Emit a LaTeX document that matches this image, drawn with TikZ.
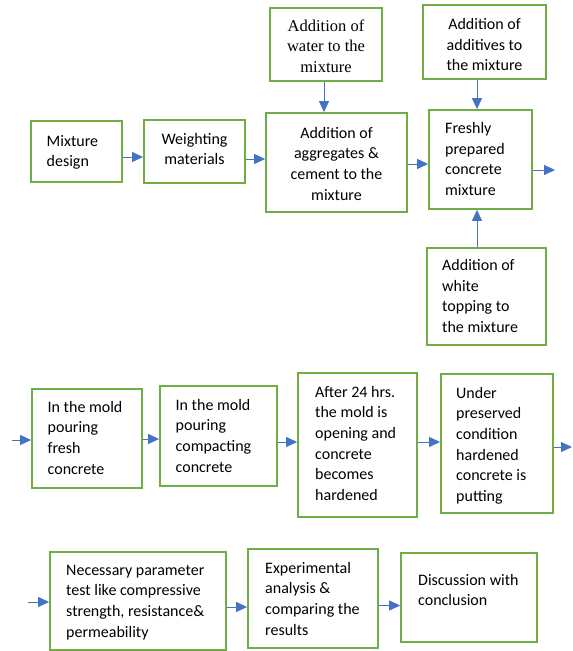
\documentclass[tikz,border=0pt]{standalone}
\usepackage{fontspec}
\setmainfont{Carlito}
\newfontfamily\serifw{Liberation Serif}
\usetikzlibrary{arrows.meta}
\definecolor{boxgreen}{HTML}{70AD47}
\definecolor{arrblue}{HTML}{4472C4}
\begin{document}
\begin{tikzpicture}[x=1pt,y=-1pt,
  box/.style={draw=boxgreen,line width=1.8pt,fill=white,inner sep=0pt},
  txt/.style={inner sep=0pt,font=\fontsize{16}{20.7}\selectfont},
  ltxt/.style={txt,align=left,anchor=base west},
  ctxt/.style={txt,align=center,anchor=base},
  arr/.style={draw=arrblue,line width=1pt,-{Triangle[length=11pt,width=10pt]}}]
\useasboundingbox (0,0) rectangle (573,651);
% top row boxes
\node[box,minimum width=91pt,minimum height=61pt] (a1) at (76.5,151.5) {};
\node[box,minimum width=101pt,minimum height=63pt] (a2) at (194.5,151.5) {};
\node[box,minimum width=141pt,minimum height=99pt] (a3) at (336.5,162.5) {};
\node[box,minimum width=112pt,minimum height=73pt] (w) at (326,44.5) {};
\node[box,minimum width=123pt,minimum height=74pt] (d) at (484.5,42) {};
\node[box,minimum width=103pt,minimum height=99pt] (f) at (480.5,159.5) {};
\node[box,minimum width=119pt,minimum height=97pt] (t) at (486.5,296.5) {};
% second row
\node[box,minimum width=110pt,minimum height=99pt] (b1) at (87,438.5) {};
\node[box,minimum width=117pt,minimum height=100pt] (b2) at (218.5,436) {};
\node[box,minimum width=119pt,minimum height=144pt] (b3) at (357.5,445) {};
\node[box,minimum width=112pt,minimum height=139pt] (b4) at (497,443.5) {};
% third row
\node[box,minimum width=176pt,minimum height=98pt] (c1) at (138,601) {};
\node[box,minimum width=130pt,minimum height=99pt] (c2) at (313,598.5) {};
\node[box,minimum width=136pt,minimum height=89pt] (c3) at (469,597.5) {};
% texts (anchor = baseline of last line)
\node[ltxt] (ta1) at (46.5,166.7) {Mixture\\design};
\node[ctxt] (ta2) at (194.5,164.7) {Weighting\\materials};
\node[ctxt] (ta3) at (336.5,200.1) {Addition of\\aggregates \&\\cement to the\\mixture};
\node[ctxt,font=\serifw\fontsize{16.5}{20.7}\selectfont] (tw) at (326,72.4) {Addition of\\water to the\\mixture};
\node[ctxt] (td) at (484.5,70.9) {Addition of\\additives to\\the mixture};
\node[ltxt] (tf) at (445,195.6) {Freshly\\prepared\\concrete\\mixture};
\node[ltxt] (tt) at (442,332.6) {Addition of\\white\\topping to\\the mixture};
\node[ltxt] (tb1) at (47.5,474.1) {In the mold\\pouring\\fresh\\concrete};
\node[ltxt] (tb2) at (175.5,472.1) {In the mold\\pouring\\compacting\\concrete};
\node[ltxt] (tb3) at (315,500.5) {After 24 hrs.\\the mold is\\opening and\\concrete\\becomes\\hardened};
\node[ltxt] (tb4) at (456,501.5) {Under\\preserved\\condition\\hardened\\concrete is\\putting};
\node[ltxt] (tc1) at (66,637.1) {Necessary parameter\\test like compressive\\strength, resistance\&\\permeability};
\node[ltxt] (tc2) at (265,635.1) {Experimental\\analysis \&\\comparing the\\results};
\node[ltxt] (tc3) at (418,605.7) {Discussion with\\conclusion};
% free ends
\coordinate (fo) at (555,170);
\coordinate (bi) at (11.5,440);
\coordinate (bo) at (572,447);
\coordinate (ci) at (28,602);
% arrows
\draw[arr] ([yshift=-5.5pt]a1.east) -- ([yshift=-5.5pt]a2.west);
\draw[arr] ([yshift=-7.5pt]a2.east) -- ([yshift=3.5pt]a3.west);
\draw[arr] ([yshift=-1.5pt]a3.east) -- ([yshift=-4.5pt]f.west);
\draw[arr] ([yshift=-10.5pt]f.east) -- (fo);
\draw[arr] ([xshift=-2pt]w.south) -- ([xshift=-12.5pt]a3.north);
\draw[arr] ([xshift=-7.5pt]d.south) -- ([xshift=-3.5pt]f.north);
\draw[arr] ([xshift=-9.5pt]t.north) -- ([xshift=-3.5pt]f.south);
\draw[arr] (bi) -- ([yshift=-1.5pt]b1.west);
\draw[arr] ([yshift=-0.5pt]b1.east) -- ([yshift=-3pt]b2.west);
\draw[arr] ([yshift=-6pt]b2.east) -- ([yshift=3pt]b3.west);
\draw[arr] ([yshift=3pt]b3.east) -- ([yshift=1.5pt]b4.west);
\draw[arr] ([yshift=-3.5pt]b4.east) -- (bo);
\draw[arr] (ci) -- ([yshift=-1pt]c1.west);
\draw[arr] ([yshift=-6pt]c1.east) -- ([yshift=-8.5pt]c2.west);
\draw[arr] ([yshift=-7pt]c2.east) -- ([yshift=-8pt]c3.west);
\end{tikzpicture}
\end{document}
